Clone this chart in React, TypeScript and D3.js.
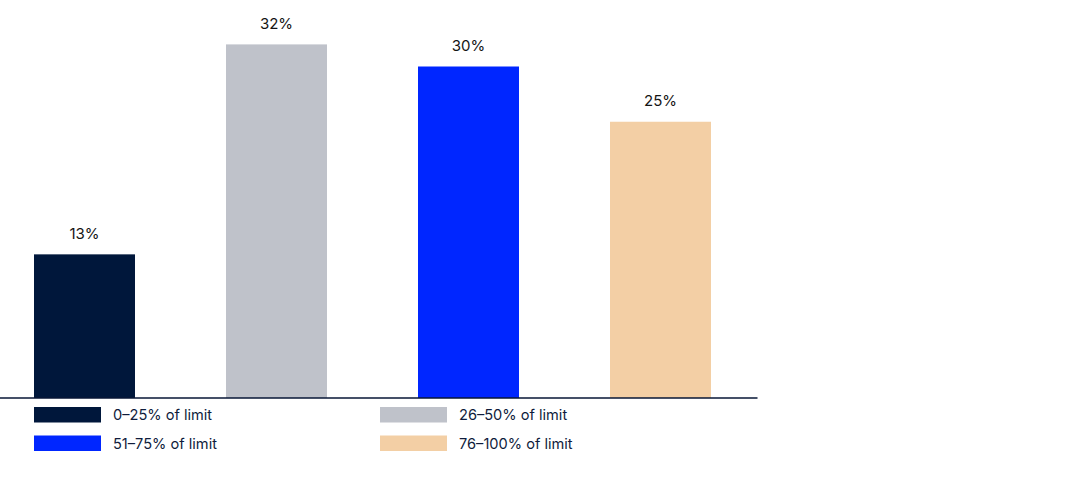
import React from "react";
import * as d3 from "d3";

const categories = ["0–25% of limit", "26–50% of limit", "51–75% of limit", "76–100% of limit"];
const values = [13, 32, 30, 25];
const valueLabels = ["13%", "32%", "30%", "25%"];
const colors = ["#00173b", "#bfc2ca", "#0026ff", "#f3cfa5"];
const legendOrder = [0, 1, 2, 3];

const W = 1084;
const H = 492;
const baseY = 398;
const FONT = "Inter, 'Noto Sans', sans-serif";

export default function App() {
  const x = d3.scaleBand<string>().domain(categories).range([34, 711]).paddingInner(0.474).paddingOuter(0);
  const y = d3.scaleLinear().domain([0, 36]).range([baseY, 0.2]);

  const legendX = [34, 380];
  const legendY = [407, 435.5];

  return (
    <svg width={W} height={H} style={{ position: "absolute", left: 0, top: 0, background: "#fff" }}>
      {categories.map((c, i) => (
        <g key={c}>
          <rect x={x(c)} y={y(values[i])} width={x.bandwidth()} height={baseY - y(values[i])} fill={colors[i]} />
          <text
            x={(x(c) as number) + x.bandwidth() / 2}
            y={y(values[i]) - 15.5}
            textAnchor="middle"
            fontFamily={FONT}
            fontSize={15}
            fill="#141414"
          >
            {valueLabels[i]}
          </text>
        </g>
      ))}
      <line x1={0} x2={757.5} y1={baseY} y2={baseY} stroke="#071636" strokeWidth={1.3} />
      {legendOrder.map((idx, k) => {
        const col = k % 2;
        const row = Math.floor(k / 2);
        const lx = legendX[col];
        const ly = legendY[row];
        return (
          <g key={"lg" + idx}>
            <rect x={lx} y={ly} width={67} height={15.5} fill={colors[idx]} />
            <text x={lx + 79} y={ly + 13} fontFamily={FONT} fontSize={14.6} fill="#0f1c3c">
              {categories[idx]}
            </text>
          </g>
        );
      })}
    </svg>
  );
}
